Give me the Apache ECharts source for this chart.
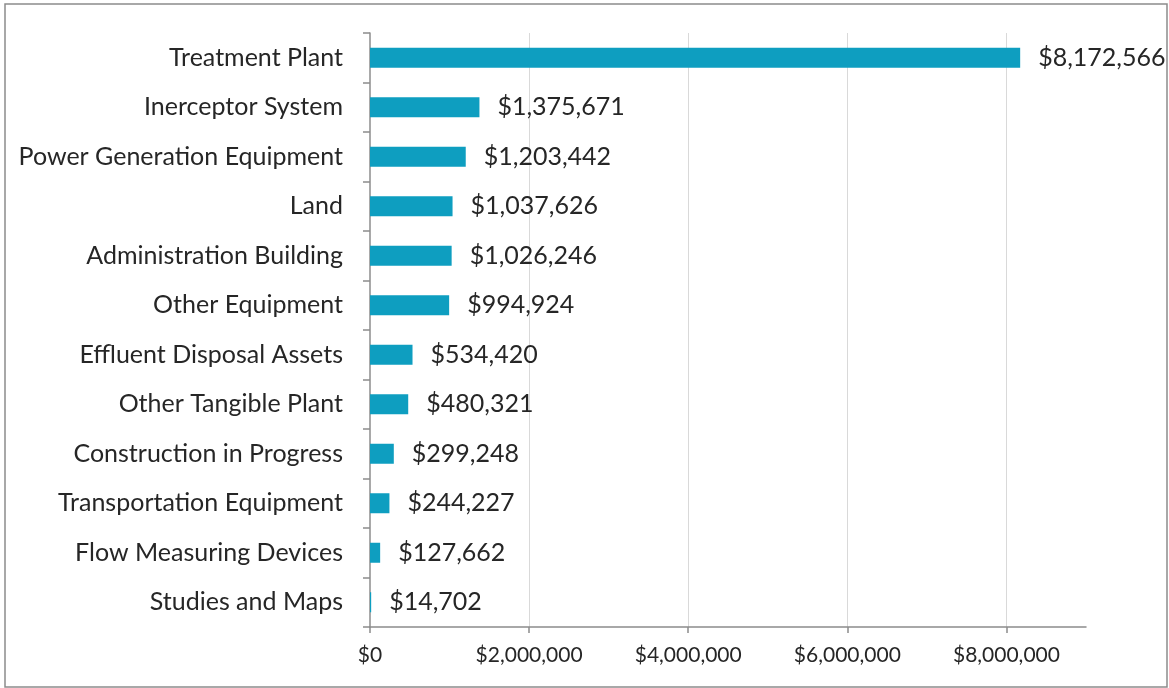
<!DOCTYPE html>
<html>
<head>
<meta charset="utf-8">
<script src="https://cdn.jsdelivr.net/npm/echarts@6/dist/echarts.min.js"></script>
<style>
  html, body { margin: 0; padding: 0; background: #ffffff; }
  #chart { width: 1169px; height: 688px; }
</style>
</head>
<body>
<div id="chart"></div>
<script>
// Asset categories, listed top to bottom
const categories = [
  'Treatment Plant',
  'Inerceptor System',
  'Power Generation Equipment',
  'Land',
  'Administration Building',
  'Other Equipment',
  'Effluent Disposal Assets',
  'Other Tangible Plant',
  'Construction in Progress',
  'Transportation Equipment',
  'Flow Measuring Devices',
  'Studies and Maps'
];

// Asset values in dollars
const values = [
  8172566, 1375671, 1203442, 1037626, 1026246, 994924,
  534420, 480321, 299248, 244227, 127662, 14702
];

// Value-axis ticks (the axis itself runs a little past the last one)
const xTicks = [0, 2000000, 4000000, 6000000, 8000000];
const xMax = 9000000;

const fmtMoney = v => '$' + Math.round(v).toLocaleString('en-US');

const chart = echarts.init(document.getElementById('chart'), null, { renderer: 'canvas' });
const textColor = '#262626';
const fontFamily = 'Lato, "Open Sans", sans-serif';

chart.setOption({
  backgroundColor: '#ffffff',
  animation: false,
  graphic: [{
    type: 'rect',
    shape: { x: 5, y: 4, width: 1162, height: 683 },
    style: { fill: 'none', stroke: '#8c8c8c', lineWidth: 1.5 },
    silent: true
  }],
  grid: { left: 370, top: 33, right: 83, bottom: 61, containLabel: false },
  xAxis: {
    type: 'value',
    min: 0,
    max: xMax,
    interval: 2000000,
    axisLine: { show: true, lineStyle: { color: '#8c8c8c', width: 1.5 } },
    axisTick: { show: true, length: 6, customValues: xTicks, lineStyle: { color: '#8c8c8c', width: 1.5 } },
    axisLabel: {
      customValues: xTicks,
      margin: 18,
      color: textColor,
      fontSize: 21,
      fontFamily: fontFamily,
      formatter: fmtMoney
    },
    splitLine: { show: true, showMinLine: false, lineStyle: { color: '#d9d9d9', width: 1 } }
  },
  yAxis: {
    type: 'category',
    data: categories,
    inverse: true,
    axisLine: { show: true, lineStyle: { color: '#8c8c8c', width: 1.5 } },
    axisTick: { show: true, length: 7, lineStyle: { color: '#8c8c8c', width: 1.5 } },
    axisLabel: {
      margin: 27,
      color: textColor,
      fontSize: 25,
      fontFamily: fontFamily
    },
    splitLine: { show: false }
  },
  series: [{
    type: 'bar',
    data: values,
    barWidth: 20,
    itemStyle: { color: '#0e9ec0' },
    label: {
      show: true,
      position: 'right',
      distance: 18,
      color: textColor,
      fontSize: 25,
      fontFamily: fontFamily,
      formatter: p => fmtMoney(p.value)
    }
  }]
});
</script>
</body>
</html>
